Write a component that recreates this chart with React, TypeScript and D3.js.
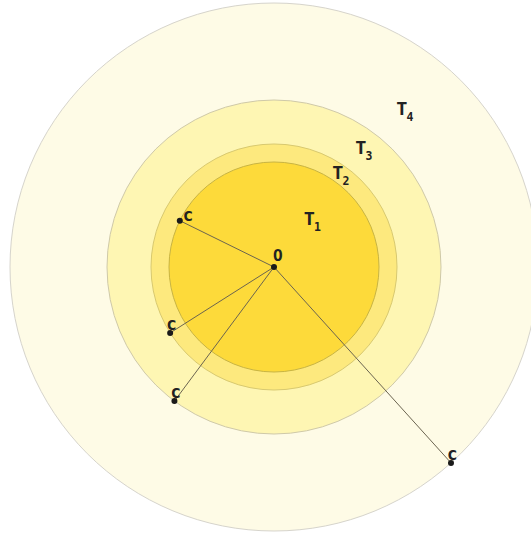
import React, { useMemo } from 'react';
import * as d3 from 'd3';

// concentric zones, outer radius in px-units
const zones = ['T1', 'T2', 'T3', 'T4'];
const zoneRadius = [105, 123, 167, 264];
const zoneFill = ['#fdda3a', '#fde97e', '#fef6b3', '#fefbe6'];
const zoneStroke = ['#c8b443', '#d8c970', '#cfc9a8', '#d6d4cc'];
// where the T labels sit (angle deg, radius)
const labelAngle = [-53.6, -56, -54, -51];
const labelRadius = [52, 106, 140, 196];

// points "c", each sits on one zone boundary
const pointZone = [0, 1, 2, 3];
const pointAngle = [206.2, 147.6, 126.6, 47.9];

const W = 531;
const H = 533;
const cx = 274;
const cy = 267;

const font = '"DejaVu Sans Mono", monospace';

const App = () => {
  const r = useMemo(() => d3.scaleLinear().domain([0, 1]).range([0, 1]), []);

  const polar = (deg: number, rad: number) => {
    const a = (deg * Math.PI) / 180;
    return [cx + r(rad) * Math.cos(a), cy + r(rad) * Math.sin(a)];
  };

  const points = pointZone.map((z, i) => {
    const [x, y] = polar(pointAngle[i], zoneRadius[z]);
    return { x, y, right: pointAngle[i] > 180 };
  });

  const order = d3.range(zones.length).reverse();

  return (
    <svg width={W} height={H} style={{ position: 'absolute', left: 0, top: 0 }}>
      {order.map(i => (
        <circle
          key={zones[i]}
          cx={cx}
          cy={cy}
          r={r(zoneRadius[i])}
          fill={zoneFill[i]}
          stroke={zoneStroke[i]}
          strokeWidth={1}
        />
      ))}

      {zones.map((z, i) => {
        const [x, y] = polar(labelAngle[i], labelRadius[i]);
        return (
          <text key={z} x={x - 1} y={y} fontFamily={font} fontWeight="bold" fontSize={18.5} fill="#222">
            {z[0]}
            <tspan fontSize={11.5} dx={-1} dy={6}>{z.slice(1)}</tspan>
          </text>
        );
      })}

      {points.map((p, i) => (
        <line key={'l' + i} x1={cx} y1={cy} x2={p.x} y2={p.y} stroke="#6b6450" strokeWidth={1} />
      ))}

      {points.map((p, i) => (
        <g key={'p' + i}>
          <circle cx={p.x} cy={p.y} r={3} fill="#1a1a1a" />
          <text
            x={p.right ? p.x + 3 : p.x - 4}
            y={p.right ? p.y : p.y - 3}
            fontFamily={font}
            fontWeight="bold"
            fontSize={17.5}
            fill="#222"
          >
            c
          </text>
        </g>
      ))}

      <circle cx={cx} cy={cy} r={3} fill="#1a1a1a" />
      <text x={cx - 1} y={cy - 6} fontFamily={font} fontWeight="bold" fontSize={16} fill="#222">
        O
      </text>
    </svg>
  );
};

export default App;
